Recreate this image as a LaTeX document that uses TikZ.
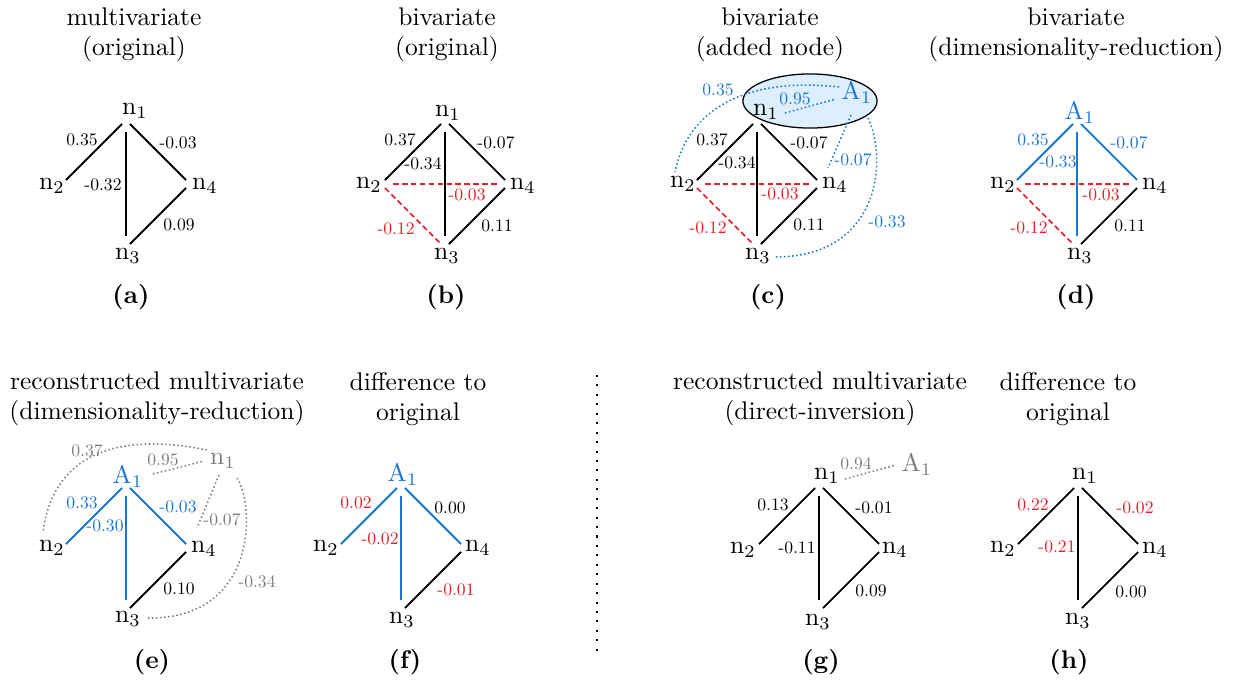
\documentclass[tikz,border=0pt]{standalone}
\usepackage{graphicx}
\definecolor{myblue}{RGB}{25,118,210}
\definecolor{myred}{RGB}{229,30,37}
\definecolor{mygray}{RGB}{125,125,125}
\definecolor{myfill}{RGB}{221,238,252}
\newcommand\sm[1]{\scalebox{0.69}{#1}}
\tikzset{
  lab/.style={inner sep=0pt},
  ttl/.style={align=center, inner sep=0pt},
  ew/.style={inner sep=0pt},
  ed/.style={line width=0.7pt, shorten <=2.2pt, shorten >=2.2pt},
  es/.style={line width=0.7pt, shorten <=4.7pt, shorten >=4.7pt},
  rd/.style={draw=myred, line width=0.6pt, dash pattern=on 2.2pt off 1.3pt},
  bd/.style={draw=myblue, line width=0.6pt, densely dotted},
  gd/.style={draw=mygray, line width=0.6pt, densely dotted},
}
\begin{document}
\begin{tikzpicture}[x=0.392pt,y=-0.392pt]
\path[use as bounding box] (0,0) rectangle (1240,680);

% titles
\node[ttl] (ta) at (134,35) {multivariate\\(original)};
\node[ttl] (tb) at (447,35) {bivariate\\(original)};
\node[ttl] (tc) at (770,35) {bivariate\\(added node)};
\node[ttl] (td) at (1076,35) {bivariate\\(dimensionality-reduction)};
\node[ttl] (te) at (157,399) {reconstructed multivariate\\(dimensionality-reduction)};
\node[ttl] (tf) at (418,399) {difference to\\original};
\node[ttl] (tg) at (820,399) {reconstructed multivariate\\(direct-inversion)};
\node[ttl] (th) at (1068,399) {difference to\\original};

\node[lab] (la) at (131,297) {\textbf{(a)}};
\node[lab] (lb) at (446,297) {\textbf{(b)}};
\node[lab] (lc) at (768,297) {\textbf{(c)}};
\node[lab] (ld) at (1076,297) {\textbf{(d)}};
\node[lab] (le) at (152,662) {\textbf{(e)}};
\node[lab] (lf) at (405,662) {\textbf{(f)}};
\node[lab] (lg) at (821,662) {\textbf{(g)}};
\node[lab] (lh) at (1069,662) {\textbf{(h)}};

% separator
\coordinate (s1) at (597,375);
\coordinate (s2) at (597,655);
\draw[line width=0.8pt, dash pattern=on 0.8pt off 2.9pt] (s1) -- (s2);

% ---------- (a)
\coordinate (a1) at (126,120); \coordinate (a2) at (62,184);
\coordinate (a3) at (126,248); \coordinate (a4) at (190,184);
\node[lab] (a1t) at (135,111) {$\mathrm{n}_1$};
\node[lab] (a2t) at (52,186) {$\mathrm{n}_2$};
\node[lab] (a3t) at (128,256) {$\mathrm{n}_3$};
\node[lab] (a4t) at (205,186) {$\mathrm{n}_4$};
\draw[ed] (a1) -- (a2); \draw[es] (a1) -- (a3);
\draw[ed] (a1) -- (a4); \draw[ed] (a3) -- (a4);
\node[ew] (a12) at (82,140) {\sm{0.35}};
\node[ew] (a13) at (103,185) {\sm{-0.32}};
\node[ew] (a14) at (178,143) {\sm{-0.03}};
\node[ew] (a34) at (179,225) {\sm{0.09}};

% ---------- (b)
\coordinate (b1) at (445,120); \coordinate (b2) at (381,184);
\coordinate (b3) at (445,248); \coordinate (b4) at (509,184);
\node[lab] (b1t) at (448,113) {$\mathrm{n}_1$};
\node[lab] (b2t) at (369,185) {$\mathrm{n}_2$};
\node[lab] (b3t) at (447,256) {$\mathrm{n}_3$};
\node[lab] (b4t) at (523,186) {$\mathrm{n}_4$};
\draw[ed] (b1) -- (b2); \draw[es] (b1) -- (b3);
\draw[ed] (b1) -- (b4); \draw[ed] (b3) -- (b4);
\draw[es,rd] (b2) -- (b4); \draw[ed,rd] (b2) -- (b3);
\node[ew] (b12) at (400,140) {\sm{0.37}};
\node[ew] (b13) at (423,164) {\sm{-0.34}};
\node[ew] (b14) at (496,143) {\sm{-0.07}};
\node[ew,text=myred] (b24) at (467,195) {\sm{-0.03}};
\node[ew,text=myred] (b23) at (396,229) {\sm{-0.12}};
\node[ew] (b34) at (497,226) {\sm{0.11}};

% ---------- (c)
\draw[line width=0.5pt, fill=myfill] (810,101) ellipse [x radius=26.3pt, y radius=10.6pt];
\coordinate (c1) at (757,120); \coordinate (c2) at (693,184);
\coordinate (c3) at (757,248); \coordinate (c4) at (821,184);
\node[lab] (c1t) at (766,112) {$\mathrm{n}_1$};
\node[lab] (c2t) at (683,184) {$\mathrm{n}_2$};
\node[lab] (c3t) at (758,256) {$\mathrm{n}_3$};
\node[lab] (c4t) at (835,185) {$\mathrm{n}_4$};
\node[lab,text=myblue] (cAt) at (857,93) {$\mathrm{A}_1$};
\draw[ed] (c1) -- (c2); \draw[es] (c1) -- (c3);
\draw[ed] (c1) -- (c4); \draw[ed] (c3) -- (c4);
\draw[es,rd] (c2) -- (c4); \draw[ed,rd] (c2) -- (c3);
\node[ew] (c12) at (712,140) {\sm{0.37}};
\node[ew] (c13) at (737,163) {\sm{-0.34}};
\node[ew] (c14) at (809,143) {\sm{-0.07}};
\node[ew,text=myred] (c24) at (780,194) {\sm{-0.03}};
\node[ew,text=myred] (c23) at (708,228) {\sm{-0.12}};
\node[ew] (c34) at (809,225) {\sm{0.11}};
\coordinate (cq1) at (785,113); \coordinate (cq2) at (836,99);
\coordinate (cr1) at (839,87);  \coordinate (cr2) at (675,172);
\coordinate (cs1) at (851,115); \coordinate (cs2) at (828,168);
\coordinate (ct1) at (868,118); \coordinate (ct2) at (775,257);
\draw[bd] (cq1) -- (cq2);
\draw[bd] (cr1) .. controls (760,78) and (690,100) .. (cr2);
\draw[bd] (cs1) -- (cs2);
\draw[bd] (ct1) .. controls (888,160) and (880,257) .. (ct2);
\node[ew,text=myblue] (cA1) at (795,99) {\sm{0.95}};
\node[ew,text=myblue] (cA2) at (718,90) {\sm{0.35}};
\node[ew,text=myblue] (cA4) at (853,160) {\sm{-0.07}};
\node[ew,text=myblue] (cA3) at (887,222) {\sm{-0.33}};

% ---------- (d)
\coordinate (d1) at (1077,120); \coordinate (d2) at (1013,184);
\coordinate (d3) at (1077,248); \coordinate (d4) at (1141,184);
\node[lab,text=myblue] (d1t) at (1080,113) {$\mathrm{A}_1$};
\node[lab] (d2t) at (1003,185) {$\mathrm{n}_2$};
\node[lab] (d3t) at (1080,256) {$\mathrm{n}_3$};
\node[lab] (d4t) at (1155,186) {$\mathrm{n}_4$};
\draw[ed,draw=myblue] (d1) -- (d2); \draw[es,draw=myblue] (d1) -- (d3);
\draw[ed,draw=myblue] (d1) -- (d4); \draw[ed] (d3) -- (d4);
\draw[es,rd] (d2) -- (d4); \draw[ed,rd] (d2) -- (d3);
\node[ew,text=myblue] (d12) at (1033,140) {\sm{0.35}};
\node[ew,text=myblue] (d13) at (1058,162) {\sm{-0.33}};
\node[ew,text=myblue] (d14) at (1129,143) {\sm{-0.07}};
\node[ew,text=myred] (d24) at (1101,195) {\sm{-0.03}};
\node[ew,text=myred] (d23) at (1029,228) {\sm{-0.12}};
\node[ew] (d34) at (1130,226) {\sm{0.11}};

% ---------- (e)
\coordinate (e1) at (126,484); \coordinate (e2) at (62,548);
\coordinate (e3) at (126,612); \coordinate (e4) at (190,548);
\node[lab,text=myblue] (e1t) at (128,477) {$\mathrm{A}_1$};
\node[lab,text=mygray] (eNt) at (223,461) {$\mathrm{n}_1$};
\node[lab] (e2t) at (52,548) {$\mathrm{n}_2$};
\node[lab] (e3t) at (128,619) {$\mathrm{n}_3$};
\node[lab] (e4t) at (204,549) {$\mathrm{n}_4$};
\draw[ed,draw=myblue] (e1) -- (e2); \draw[es,draw=myblue] (e1) -- (e3);
\draw[ed,draw=myblue] (e1) -- (e4); \draw[ed] (e3) -- (e4);
\node[ew,text=myblue] (e12) at (82,503) {\sm{0.33}};
\node[ew,text=myblue] (e13) at (105,526) {\sm{-0.30}};
\node[ew,text=myblue] (e14) at (178,507) {\sm{-0.03}};
\node[ew] (e34) at (179,589) {\sm{0.10}};
\coordinate (eq1) at (153,474); \coordinate (eq2) at (204,461);
\coordinate (er1) at (207,450); \coordinate (er2) at (43,532);
\coordinate (es1) at (219,475); \coordinate (es2) at (197,528);
\coordinate (et1) at (237,478); \coordinate (et2) at (147,618);
\draw[gd] (eq1) -- (eq2);
\draw[gd] (er1) .. controls (140,436) and (55,440) .. (er2);
\draw[gd] (es1) -- (es2);
\draw[gd] (et1) .. controls (255,505) and (258,620) .. (et2);
\node[ew,text=mygray] (eN1) at (163,460) {\sm{0.95}};
\node[ew,text=mygray] (eN2) at (87,451) {\sm{0.37}};
\node[ew,text=mygray] (eN4) at (222,520) {\sm{-0.07}};
\node[ew,text=mygray] (eN3) at (257,582) {\sm{-0.34}};

% ---------- (f)
\coordinate (f1) at (401,484); \coordinate (f2) at (337,548);
\coordinate (f3) at (401,612); \coordinate (f4) at (465,548);
\node[lab,text=myblue] (f1t) at (403,475) {$\mathrm{A}_1$};
\node[lab] (f2t) at (326,548) {$\mathrm{n}_2$};
\node[lab] (f3t) at (402,620) {$\mathrm{n}_3$};
\node[lab] (f4t) at (478,548) {$\mathrm{n}_4$};
\draw[ed,draw=myblue] (f1) -- (f2); \draw[es,draw=myblue] (f1) -- (f3);
\draw[ed,draw=myblue] (f1) -- (f4); \draw[ed] (f3) -- (f4);
\node[ew,text=myred] (f12) at (356,503) {\sm{0.02}};
\node[ew,text=myred] (f13) at (380,539) {\sm{-0.02}};
\node[ew] (f14) at (450,508) {\sm{0.00}};
\node[ew,text=myred] (f34) at (456,590) {\sm{-0.01}};

% ---------- (g)
\coordinate (g1) at (819,484); \coordinate (g2) at (755,548);
\coordinate (g3) at (819,612); \coordinate (g4) at (883,548);
\node[lab] (g1t) at (827,476) {$\mathrm{n}_1$};
\node[lab,text=mygray] (gAt) at (917,465) {$\mathrm{A}_1$};
\node[lab] (g2t) at (743,550) {$\mathrm{n}_2$};
\node[lab] (g3t) at (818,622) {$\mathrm{n}_3$};
\node[lab] (g4t) at (895,550) {$\mathrm{n}_4$};
\draw[ed] (g1) -- (g2); \draw[es] (g1) -- (g3);
\draw[ed] (g1) -- (g4); \draw[ed] (g3) -- (g4);
\node[ew] (g12) at (773,505) {\sm{0.13}};
\node[ew] (g13) at (797,548) {\sm{-0.11}};
\node[ew] (g14) at (874,508) {\sm{-0.01}};
\node[ew] (g34) at (871,591) {\sm{0.09}};
\coordinate (gq1) at (845,479); \coordinate (gq2) at (896,465);
\draw[gd] (gq1) -- (gq2);
\node[ew,text=mygray] (gA1) at (856,464) {\sm{0.94}};

% ---------- (h)
\coordinate (h1) at (1078,484); \coordinate (h2) at (1014,548);
\coordinate (h3) at (1078,612); \coordinate (h4) at (1142,548);
\node[lab] (h1t) at (1085,476) {$\mathrm{n}_1$};
\node[lab] (h2t) at (1003,549) {$\mathrm{n}_2$};
\node[lab] (h3t) at (1078,621) {$\mathrm{n}_3$};
\node[lab] (h4t) at (1155,550) {$\mathrm{n}_4$};
\draw[ed] (h1) -- (h2); \draw[es] (h1) -- (h3);
\draw[ed] (h1) -- (h4); \draw[ed] (h3) -- (h4);
\node[ew,text=myred] (h12) at (1033,505) {\sm{0.22}};
\node[ew,text=myred] (h13) at (1057,547) {\sm{-0.21}};
\node[ew,text=myred] (h14) at (1135,508) {\sm{-0.02}};
\node[ew] (h34) at (1131,592) {\sm{0.00}};
\end{tikzpicture}
\end{document}
